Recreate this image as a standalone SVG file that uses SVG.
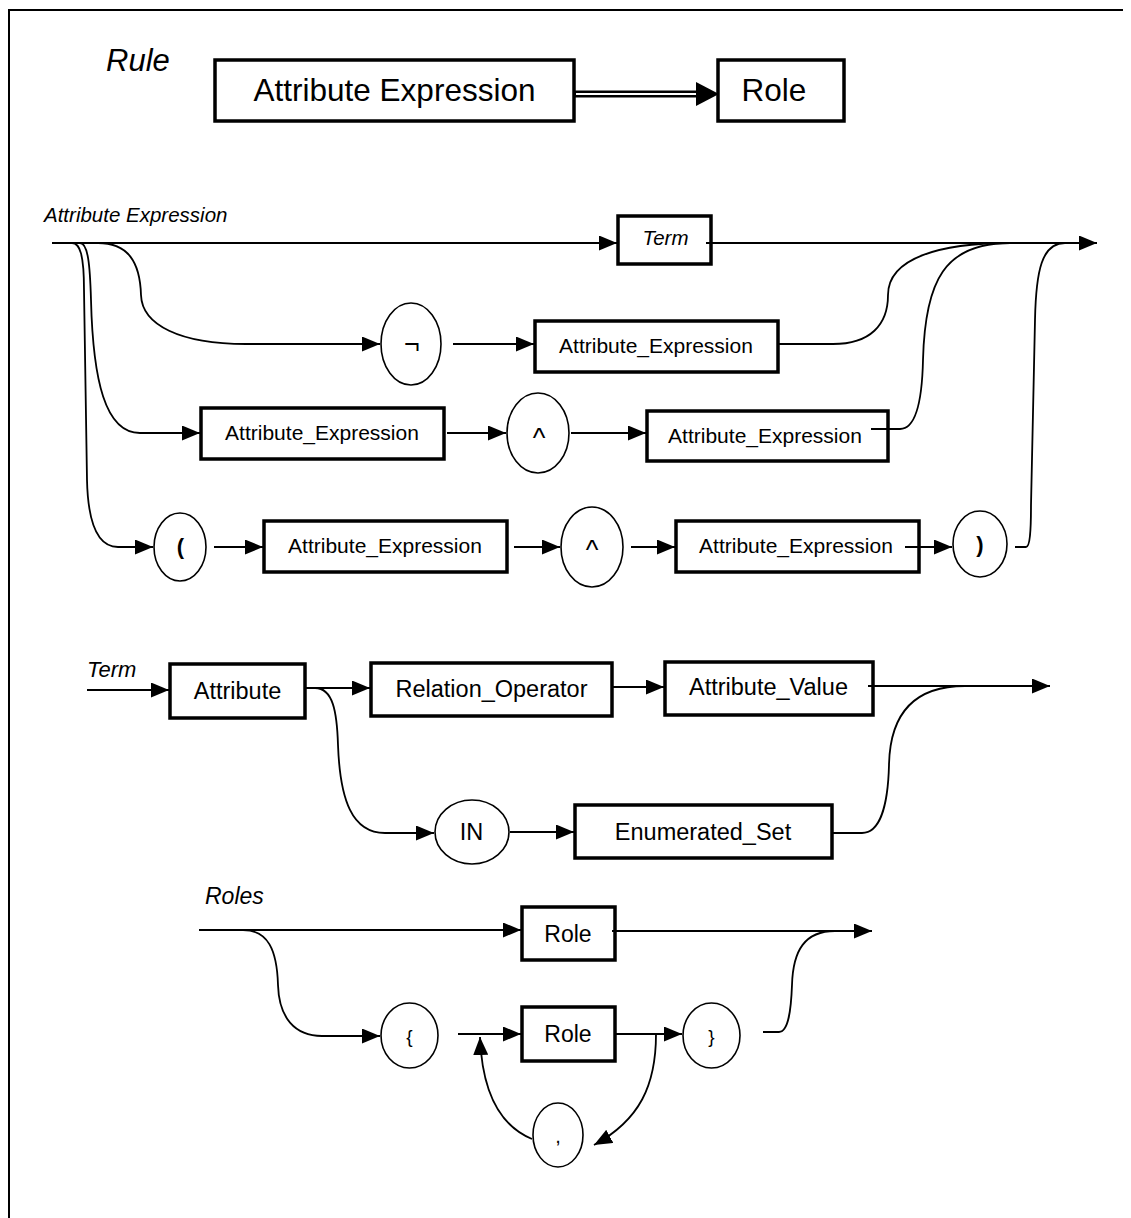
<svg xmlns="http://www.w3.org/2000/svg" width="1131" height="1218" viewBox="0 0 1131 1218">
<defs>
<marker id="ah" markerUnits="userSpaceOnUse" markerWidth="18" markerHeight="15" refX="18" refY="7.5" orient="auto" viewBox="0 0 18 15">
<path d="M0,0 L18,7.5 L0,15 z" fill="#000"/>
</marker>
</defs>
<style>
.box{fill:#fff;stroke:#000;stroke-width:3.5}
.ell{fill:#fff;stroke:#000;stroke-width:1.6}
.ln{fill:none;stroke:#000;stroke-width:1.8}
.arr{marker-end:url(#ah)}
text{font-family:"Liberation Sans",Arial,sans-serif;fill:#000}
.c{text-anchor:middle}
.i{font-style:italic}
.big{font-size:31.5px}
.s2{font-size:21px}
.s3{font-size:23.5px}
.s4{font-size:23px}
.op{font-size:27px}
</style>
<rect width="1131" height="1218" fill="#fff"/>
<path d="M9,1218 V10 H1123" fill="none" stroke="#000" stroke-width="2"/>

<g id="labels">
<text x="106" y="71" class="i" font-size="31">Rule</text>
<text x="44" y="222" class="i" font-size="20.5">Attribute Expression</text>
<text x="87" y="677" class="i" font-size="22">Term</text>
<text x="205" y="904" class="i" font-size="23">Roles</text>
</g>

<g id="n-rule-ae"><rect class="box" x="215" y="60" width="359" height="61"/><text class="c big" x="394.5" y="101">Attribute Expression</text></g>
<g id="n-rule-role"><rect class="box" x="718" y="60" width="126" height="61"/><text class="c big" x="774" y="101">Role</text></g>

<g id="n-term"><rect class="box" x="618" y="216" width="93" height="48"/><text class="c i" font-size="20.5" x="665.5" y="245">Term</text></g>
<g id="n-not"><ellipse class="ell" cx="411" cy="344" rx="30" ry="41"/><text class="c op" x="412" y="353">¬</text></g>
<g id="n-ae1"><rect class="box" x="535" y="321" width="243" height="51"/><text class="c s2" x="656" y="353">Attribute_Expression</text></g>
<g id="n-ae2"><rect class="box" x="201" y="408" width="243" height="51"/><text class="c s2" x="322" y="440">Attribute_Expression</text></g>
<g id="n-and1"><ellipse class="ell" cx="538" cy="433" rx="31" ry="40"/><text class="c op" x="539" y="447">^</text></g>
<g id="n-ae3"><rect class="box" x="647" y="411" width="241" height="50"/><text class="c s2" x="765" y="443">Attribute_Expression</text></g>
<g id="n-lpar"><ellipse class="ell" cx="180" cy="547" rx="26" ry="34"/><text class="c" font-size="22" font-weight="bold" x="180.5" y="554">(</text></g>
<g id="n-ae4"><rect class="box" x="264" y="521" width="243" height="51"/><text class="c s2" x="385" y="553">Attribute_Expression</text></g>
<g id="n-and2"><ellipse class="ell" cx="592" cy="547" rx="31" ry="40"/><text class="c op" x="592" y="559">^</text></g>
<g id="n-ae5"><rect class="box" x="676" y="521" width="243" height="51"/><text class="c s2" x="796" y="553">Attribute_Expression</text></g>
<g id="n-rpar"><ellipse class="ell" cx="980" cy="544" rx="27" ry="33"/><text class="c" font-size="22" font-weight="bold" x="980" y="552">)</text></g>

<g id="n-attribute"><rect class="box" x="170" y="664" width="135" height="54"/><text class="c s3" x="237.5" y="699">Attribute</text></g>
<g id="n-relop"><rect class="box" x="371" y="663" width="241" height="53"/><text class="c s3" x="491.5" y="697">Relation_Operator</text></g>
<g id="n-attval"><rect class="box" x="665" y="662" width="208" height="53"/><text class="c s3" x="768.5" y="695">Attribute_Value</text></g>
<g id="n-in"><ellipse class="ell" cx="472" cy="832" rx="37" ry="32"/><text class="c s3" x="471.5" y="840">IN</text></g>
<g id="n-enum"><rect class="box" x="575" y="805" width="257" height="53"/><text class="c s3" x="703" y="840">Enumerated_Set</text></g>

<g id="n-role1"><rect class="box" x="522" y="907" width="93" height="53"/><text class="c s4" x="568" y="942">Role</text></g>
<g id="n-lbrace"><ellipse class="ell" cx="409.5" cy="1035.5" rx="28.5" ry="32.5"/><text class="c" font-size="19" x="409.5" y="1043">{</text></g>
<g id="n-role2"><rect class="box" x="522" y="1007" width="93" height="54"/><text class="c s4" x="568" y="1042">Role</text></g>
<g id="n-rbrace"><ellipse class="ell" cx="711.5" cy="1035.5" rx="28.5" ry="32.5"/><text class="c" font-size="19" x="711.5" y="1043">}</text></g>
<g id="n-comma"><ellipse class="ell" cx="558" cy="1135" rx="25" ry="32"/><text class="c" font-size="20" x="558" y="1143">,</text></g>

<g id="connectors">
<line x1="574" y1="94" x2="700" y2="94" stroke="#000" stroke-width="7"/>
<line x1="576" y1="94" x2="700" y2="94" stroke="#fff" stroke-width="2.2"/>
<polygon points="696,82 719,94 696,106" fill="#000"/>

<path class="ln arr" d="M52,243 L617,243"/>
<path class="ln arr" d="M706,243 L1097,243"/>
<path class="ln arr" d="M98,243 C128,243 140,262 141,295 C142,325 180,344 246,344 L380,344"/>
<path class="ln arr" d="M453,344 L534,344"/>
<path class="ln" d="M778,344 L833,344 C870,344 888,325 888,295 C888,258 940,243 1010,243"/>
<path class="ln arr" d="M80,243 C88,243 90,265 91,300 C93,380 105,433 140,433 L200,433"/>
<path class="ln arr" d="M447,433 L506,433"/>
<path class="ln arr" d="M571,433 L646,433"/>
<path class="ln" d="M871,429 L900,429 C915,429 922,405 923,360 C925,280 945,243 1010,243"/>
<path class="ln arr" d="M72,243 C80,243 84,255 84,290 L87,480 C88,525 98,547 118,547 L153,547"/>
<path class="ln arr" d="M214,547 L263,547"/>
<path class="ln arr" d="M514,547 L560,547"/>
<path class="ln arr" d="M631,547 L675,547"/>
<path class="ln arr" d="M905,547 L952,547"/>
<path class="ln" d="M1015,547 L1026,547 C1030,547 1031,530 1031,505 L1035,320 C1036,270 1042,243 1065,243"/>

<path class="ln arr" d="M87,690 L169,690"/>
<path class="ln arr" d="M305,688 L370,688"/>
<path class="ln arr" d="M315,688 C333,688 337,712 338,745 C340,800 352,833 385,833 L434,833"/>
<path class="ln arr" d="M612,687 L664,687"/>
<path class="ln arr" d="M868,686 L1050,686"/>
<path class="ln arr" d="M510,832 L574,832"/>
<path class="ln" d="M832,833 L862,833 C880,833 888,805 889,765 C890,712 915,686 965,686"/>

<path class="ln arr" d="M199,930 L521,930"/>
<path class="ln arr" d="M612,931 L872,931"/>
<path class="ln arr" d="M243,930 C268,930 277,950 278,985 C279,1018 295,1036 322,1036 L380,1036"/>
<path class="ln arr" d="M458,1034 L521,1034"/>
<path class="ln arr" d="M615,1034 L682,1034"/>
<path class="ln" d="M763,1032 L779,1032 C788,1032 791,1012 792,985 C793,950 805,931 835,931"/>
<path class="ln arr" d="M656,1034 C656,1085 640,1120 594,1145"/>
<path class="ln arr" d="M532,1139 C498,1125 482,1090 480,1037"/>
</g>
</svg>
